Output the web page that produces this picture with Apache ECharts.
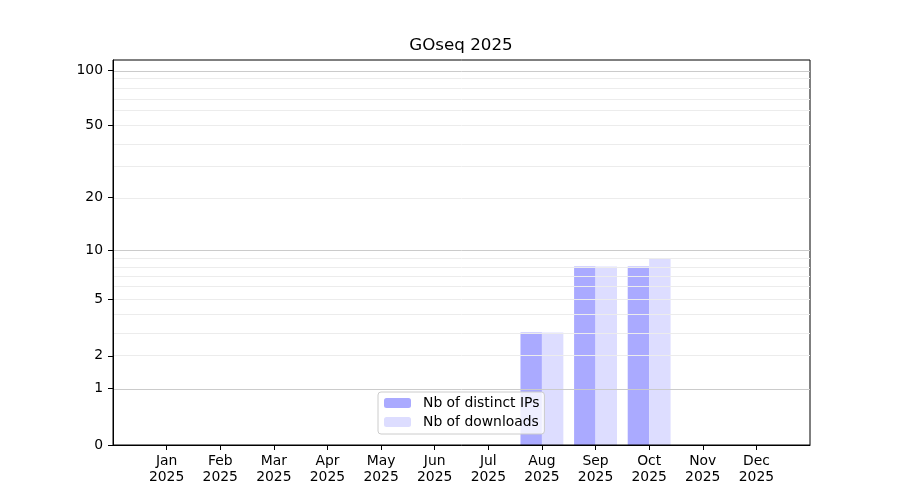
<!DOCTYPE html>
<html>
<head>
<meta charset="utf-8">
<script src="https://cdn.jsdelivr.net/npm/echarts@6/dist/echarts.min.js"></script>
<style>
  html, body { margin: 0; padding: 0; background: #fff; }
  #chart { width: 900px; height: 500px; }
</style>
</head>
<body>
<div id="chart"></div>
<script>
var months = ['Jan', 'Feb', 'Mar', 'Apr', 'May', 'Jun', 'Jul', 'Aug', 'Sep', 'Oct', 'Nov', 'Dec'];
var year = '2025';
var distinctIps = [0, 0, 0, 0, 0, 0, 0, 3, 8, 8, 0, 0];
var downloads = [0, 0, 0, 0, 0, 0, 0, 3, 8, 9, 0, 0];
var yTicks = [0, 1, 2, 5, 10, 20, 50, 100];
var majorGrid = [1, 10, 100];
var minorGrid = [2, 3, 4, 5, 6, 7, 8, 9, 20, 30, 40, 50, 60, 70, 80, 90];
var yTop = 113.5;

// log(1 + x) scale, like matplotlib symlog-ish
function f(v) { return Math.log10(1 + v); }
function inv(t) { return Math.round(Math.pow(10, t) - 1); }

// one empty slot on each side so the months sit like in the original
var cats = [''].concat(months.map(function (m) { return m + '\n' + year; }), ['']);
function pad(arr) { return [null].concat(arr.map(f), [null]); }

var font = 'DejaVu Sans';
var fs = 13.9;
var chart = echarts.init(document.getElementById('chart'));
var option = {
  animation: false,
  textStyle: { fontFamily: font },
  title: {
    text: 'GOseq ' + year,
    left: 461, top: 37, padding: 0,
    textAlign: 'center',
    textStyle: { fontFamily: font, fontSize: 16.7, fontWeight: 'normal', color: '#000' }
  },
  grid: {
    left: 113, right: 90, top: 60, bottom: 55, z: 5,
    show: true, borderColor: '#000', borderWidth: 1, backgroundColor: 'transparent'
  },
  legend: {
    data: ['Nb of distinct IPs', 'Nb of downloads'],
    orient: 'vertical',
    left: 378, top: 392,
    padding: [4, 5, 5, 6],
    itemWidth: 27, itemHeight: 10, itemGap: 5,
    backgroundColor: 'rgba(255,255,255,0.8)',
    borderColor: '#cccccc', borderWidth: 1, borderRadius: 3,
    formatter: function (name) { return '{g|}' + name; },
    textStyle: { fontFamily: font, fontSize: fs, color: '#000', rich: { g: { width: 7 } } }
  },
  xAxis: {
    type: 'category',
    data: cats,
    boundaryGap: false,
    z: 5,
    axisLine: { lineStyle: { color: '#000', width: 1 } },
    axisTick: {
      length: 5, lineStyle: { color: '#000' },
      interval: function (i, v) { return v !== ''; }
    },
    axisLabel: {
      interval: 0, margin: 8, color: '#000', fontSize: fs, lineHeight: 16, fontFamily: font
    },
    splitLine: { show: false }
  },
  yAxis: {
    type: 'value',
    min: 0, max: f(yTop),
    z: 5,
    axisLine: { show: true, lineStyle: { color: '#000', width: 1 } },
    axisTick: { show: true, length: 5, lineStyle: { color: '#000' }, customValues: yTicks.map(f) },
    axisLabel: {
      customValues: yTicks.map(f), margin: 10, color: '#000', fontSize: fs, fontFamily: font,
      formatter: function (t) { return String(inv(t)); }
    },
    splitLine: { show: false }
  },
  series: [
    {
      name: 'grid', type: 'line', data: [], z: 0, silent: true,
      markLine: {
        silent: true, symbol: 'none', label: { show: false }, animation: false,
        data: majorGrid.map(function (v) {
          return { yAxis: f(v), lineStyle: { color: '#cbcbcb', width: 1, type: 'solid' } };
        }).concat(minorGrid.map(function (v) {
          return { yAxis: f(v), lineStyle: { color: '#ececec', width: 1, type: 'solid' } };
        }))
      }
    },
    {
      name: 'Nb of distinct IPs', type: 'bar', data: pad(distinctIps),
      barWidth: '40%', barGap: '0%', z: 2,
      itemStyle: { color: '#aaaaff' }
    },
    {
      name: 'Nb of downloads', type: 'bar', data: pad(downloads),
      barWidth: '40%', barGap: '0%', z: 2,
      itemStyle: { color: '#ddddff' }
    }
  ]
};
chart.setOption(option);
</script>
</body>
</html>
